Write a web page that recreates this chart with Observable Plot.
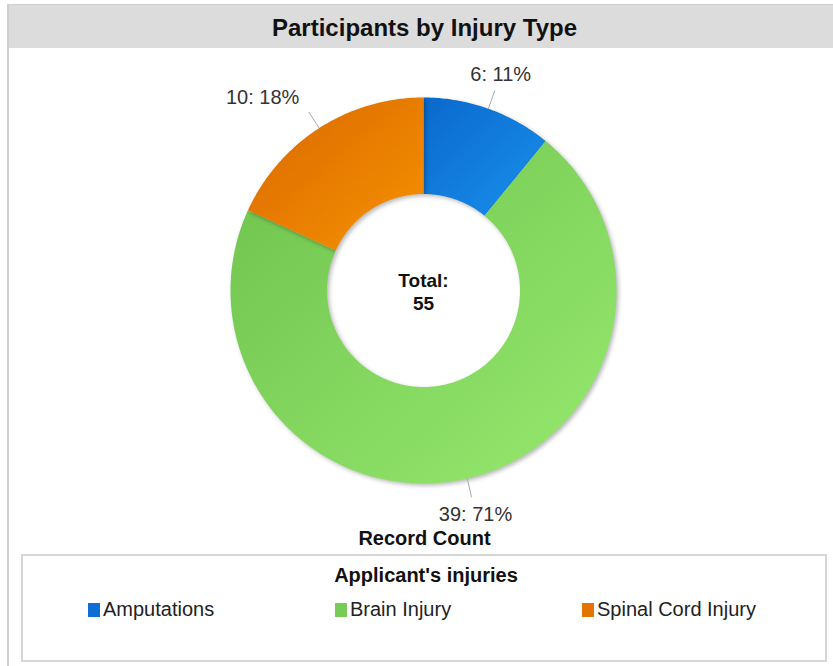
<!DOCTYPE html>
<html><head><meta charset="utf-8">
<script src="https://cdn.jsdelivr.net/npm/d3@7"></script>
<script src="https://cdn.jsdelivr.net/npm/@observablehq/plot@0.6"></script>
<style>
body{margin:0;background:#fff;font-family:"Liberation Sans",Arial,sans-serif;color:#111;}
#edge{position:absolute;left:7px;top:4px;width:2px;height:662px;background:#cfcfcf;}
#title{position:absolute;left:9px;top:4px;width:824px;height:44px;background:#dcdcdc;border-top:1px solid #cfcfcf;box-sizing:border-box;
 font-weight:bold;font-size:24px;line-height:46px;text-align:center;padding-left:7px;color:#111;}
#chart{position:absolute;left:9px;top:48px;}
#legend{position:absolute;left:21px;top:554px;width:806px;height:108px;border:2px solid #d6d6d6;box-sizing:border-box;background:#fff;}
#legend .lt{position:absolute;left:0;width:100%;top:8px;text-align:center;font-weight:bold;font-size:20px;padding-left:2px;}
#legend .item{position:absolute;top:42px;font-size:20px;color:#222;white-space:nowrap;}
#legend .sw{display:inline-block;width:12px;height:14px;margin-right:3px;vertical-align:-1px;}
</style></head><body>
<div id="edge"></div>
<div id="title"></div>
<div id="chart"></div>
<div id="legend"></div>
<script>
const chartTitle = "Participants by Injury Type";
const categories = ["Amputations", "Brain Injury", "Spinal Cord Injury"];
const counts = [6, 39, 10];
const colorsDark = ["#0a69cc", "#6ec34e", "#d96800"];
const colorsLight = ["#1990ec", "#97e96e", "#f79200"];
const swatchColors = ["#0d6fd6", "#77cb56", "#e37400"];
const totalLabel = "Total:";
const measureLabel = "Record Count";
const legendTitle = "Applicant's injuries";
const legendLefts = [65, 312, 559];

document.getElementById("title").textContent = chartTitle;

const total = d3.sum(counts);
const data = categories.map((c, i) => ({category: c, count: counts[i], i}));
const arcs = d3.pie().sort(null).value(d => d.count)(data);

const R0 = 0.5, R1 = 1;
function polygon(a) {
  const n = Math.max(8, Math.ceil((a.endAngle - a.startAngle) / 0.01));
  const pts = [];
  for (let k = 0; k <= n; k++) {
    const t = a.startAngle + (a.endAngle - a.startAngle) * k / n;
    pts.push({x: R1 * Math.sin(t), y: -R1 * Math.cos(t)});
  }
  for (let k = n; k >= 0; k--) {
    const t = a.startAngle + (a.endAngle - a.startAngle) * k / n;
    pts.push({x: R0 * Math.sin(t), y: -R0 * Math.cos(t)});
  }
  pts.push(pts[0]);
  return pts;
}

const labels = arcs.map(a => {
  const m = (a.startAngle + a.endAngle) / 2;
  const s = Math.sin(m), c = Math.cos(m);
  return {
    text: `${a.data.count}: ${Math.round(a.data.count / total * 100)}%`,
    x1: s * 1.0, y1: -c * 1.0, x2: s * 1.1, y2: -c * 1.1,
    lx: s * 1.19, ly: -c * 1.19,
    anchor: s < -0.5 ? "end" : s > 0.5 ? "start" : "middle"
  };
});

const cx = 414, cy = 242, R = 193;
const marks = arcs.map(a => Plot.line(polygon(a), {x: "x", y: "y", fill: `url(#grad${a.data.i})`, stroke: "none", curve: "linear"}));
marks.push(Plot.link(labels, {x1: "x1", y1: "y1", x2: "x2", y2: "y2", stroke: "#a8a8a8", strokeWidth: 1}));
for (const anchor of ["start", "middle", "end"]) {
  marks.push(Plot.text(labels.filter(d => d.anchor === anchor), {x: "lx", y: "ly", text: "text", textAnchor: anchor, fontSize: 20, fill: "#333"}));
}
marks.push(Plot.text([`${totalLabel}\n${total}`], {x: 0, y: 0, text: d => d, fontSize: 19, fontWeight: "bold", fill: "#111", lineHeight: 1.2, dy: 1}));
marks.push(Plot.text([measureLabel], {frameAnchor: "bottom", lineAnchor: "bottom", dx: 3, dy: -8, text: d => d, fontSize: 20, fontWeight: "bold", fill: "#111"}));

const svg = Plot.plot({
  width: 824, height: 504,
  margin: 0,
  x: {domain: [-1, 1], range: [cx - R, cx + R], axis: null},
  y: {domain: [-1, 1], range: [cy - R, cy + R], axis: null},
  style: {fontFamily: '"Liberation Sans", Arial, sans-serif', background: "transparent", overflow: "visible"},
  marks
});

const ns = "http://www.w3.org/2000/svg";
const defs = document.createElementNS(ns, "defs");
colorsDark.forEach((dark, i) => {
  const g = document.createElementNS(ns, "linearGradient");
  g.setAttribute("id", `grad${i}`);
  g.setAttribute("x1", "0"); g.setAttribute("y1", "0");
  g.setAttribute("x2", "1"); g.setAttribute("y2", "1");
  [[0, dark], [1, colorsLight[i]]].forEach(([o, col]) => {
    const st = document.createElementNS(ns, "stop");
    st.setAttribute("offset", o);
    st.setAttribute("stop-color", col);
    g.appendChild(st);
  });
  defs.appendChild(g);
});
svg.insertBefore(defs, svg.firstChild);
svg.querySelectorAll('g[aria-label="line"]').forEach(g => {
  g.style.filter = "drop-shadow(2px 2px 2px rgba(0,0,0,0.28))";
});
document.getElementById("chart").appendChild(svg);

const legend = document.getElementById("legend");
const lt = document.createElement("div");
lt.className = "lt"; lt.textContent = legendTitle;
legend.appendChild(lt);
categories.forEach((c, i) => {
  const it = document.createElement("div");
  it.className = "item";
  it.style.left = legendLefts[i] + "px";
  const sw = document.createElement("span");
  sw.className = "sw"; sw.style.background = swatchColors[i];
  it.appendChild(sw);
  it.appendChild(document.createTextNode(c));
  legend.appendChild(it);
});
</script>
</body></html>
